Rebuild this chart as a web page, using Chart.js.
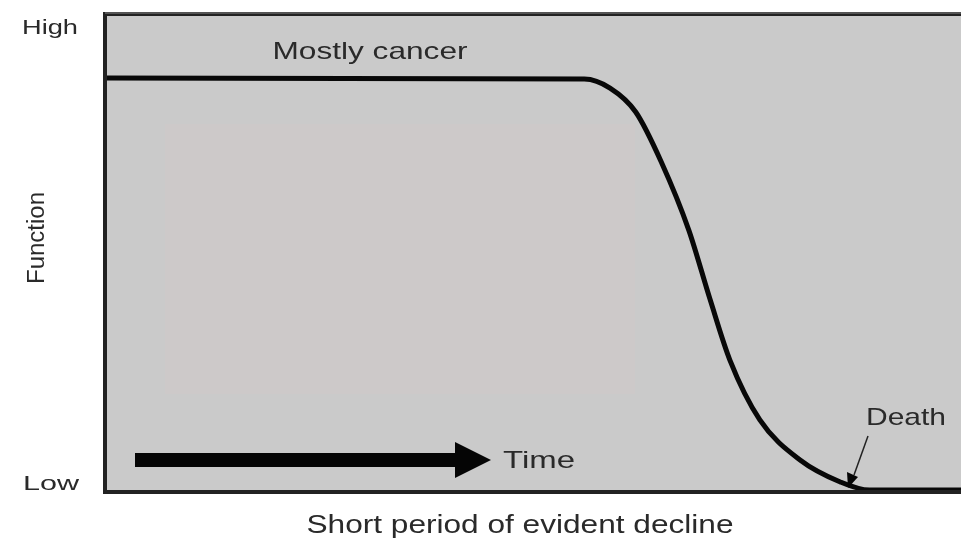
<!DOCTYPE html>
<html>
<head>
<meta charset="utf-8">
<script src="https://cdn.jsdelivr.net/npm/chart.js@4/dist/chart.umd.min.js"></script>
<style>
  html, body { margin: 0; padding: 0; background: #fff; }
  #wrap { width: 961px; height: 547px; }
</style>
</head>
<body>
<div id="wrap"><canvas id="trajectory"></canvas></div>
<script>
// time runs 0-100 across the box, function 0 (low) - 100 (high)
const timePoints = [0, 56, 59, 62, 65, 68.2, 70.7, 73, 76.5, 81.2, 85.9, 89.3, 100]
const functionValues = [86.6, 86.4, 84.5, 79.5, 69, 54.8, 40.2, 27.6, 15.1, 6.7, 2.1, 0.4, 0.4]
const yTickLabels = ['Low', 'High']
const xTitle = 'Short period of evident decline'
const yTitle = 'Function'
const curveLabel = 'Mostly cancer'

// text stretched to a given width (the original figure is widened)
function wideText(ctx, text, cx, cy, width, size, rotate) {
  ctx.save()
  ctx.font = `${size}px "Liberation Sans", Arial, sans-serif`
  ctx.fillStyle = '#2a2a2a'
  ctx.textAlign = 'center'
  ctx.textBaseline = 'middle'
  const w = ctx.measureText(text).width
  ctx.translate(cx, cy)
  if (rotate) ctx.rotate(-Math.PI / 2)
  ctx.scale(width / w, 1)
  ctx.fillText(text, 0, 0)
  ctx.restore()
}

const boxPlugin = {
  id: 'box',
  beforeDatasetsDraw(chart) {
    const { ctx, chartArea: a } = chart
    ctx.save()
    ctx.fillStyle = '#cacaca'
    ctx.fillRect(a.left, a.top, a.right - a.left, a.bottom - a.top)
    ctx.fillStyle = '#cdc9c9'
    ctx.fillRect(a.left + 60, a.top + 110, 470, 270)
    ctx.restore()
  },
  afterDatasetsDraw(chart) {
    const { ctx, chartArea: a } = chart
    ctx.save()
    // frame
    ctx.strokeStyle = '#222'
    ctx.lineWidth = 4
    ctx.beginPath()
    ctx.moveTo(a.right + 2, a.top)
    ctx.lineTo(a.left, a.top)
    ctx.lineTo(a.left, a.bottom)
    ctx.lineTo(a.right + 2, a.bottom)
    ctx.stroke()
    ctx.strokeStyle = '#555'
    ctx.lineWidth = 2
    ctx.beginPath()
    ctx.moveTo(a.left, a.top - 1)
    ctx.lineTo(a.right, a.top - 1)
    ctx.stroke()

    // Time arrow
    ctx.fillStyle = '#050505'
    ctx.fillRect(135, 453, 325, 14)
    ctx.beginPath()
    ctx.moveTo(455, 442)
    ctx.lineTo(491, 460)
    ctx.lineTo(455, 478)
    ctx.closePath()
    ctx.fill()

    // Death pointer
    ctx.strokeStyle = '#222'
    ctx.lineWidth = 1.5
    ctx.beginPath()
    ctx.moveTo(868, 436)
    ctx.lineTo(854, 475)
    ctx.stroke()
    ctx.beginPath()
    ctx.moveTo(848, 488)
    ctx.lineTo(847, 472)
    ctx.lineTo(858, 477)
    ctx.closePath()
    ctx.fill()

    // labels
    wideText(ctx, curveLabel, 370, 52, 195, 24)
    wideText(ctx, 'Time', 539, 461, 72, 24)
    wideText(ctx, 'Death', 906, 418, 80, 24)
    wideText(ctx, yTickLabels[1], 50, 28, 56, 21)
    wideText(ctx, yTickLabels[0], 51, 484, 56, 21)
    wideText(ctx, yTitle, 38, 238, 92, 23, true)
    wideText(ctx, xTitle, 520, 526, 427, 25)
    ctx.restore()
  },
}

new Chart(document.getElementById('trajectory'), {
  type: 'line',
  data: {
    datasets: [
      {
        data: timePoints.map((t, i) => ({ x: t, y: functionValues[i] })),
        borderColor: '#080808',
        borderWidth: 5,
        cubicInterpolationMode: 'monotone',
        pointRadius: 0,
        fill: false,
      },
    ],
  },
  options: {
    responsive: true,
    maintainAspectRatio: false,
    animation: false,
    layout: { padding: { left: 105, top: 14, right: 0, bottom: 55 } },
    scales: {
      x: { type: 'linear', min: 0, max: 100, display: false },
      y: { min: 0, max: 100, display: false },
    },
    plugins: {
      legend: { display: false },
      tooltip: { enabled: false },
    },
  },
  plugins: [boxPlugin],
})
</script>
</body>
</html>
